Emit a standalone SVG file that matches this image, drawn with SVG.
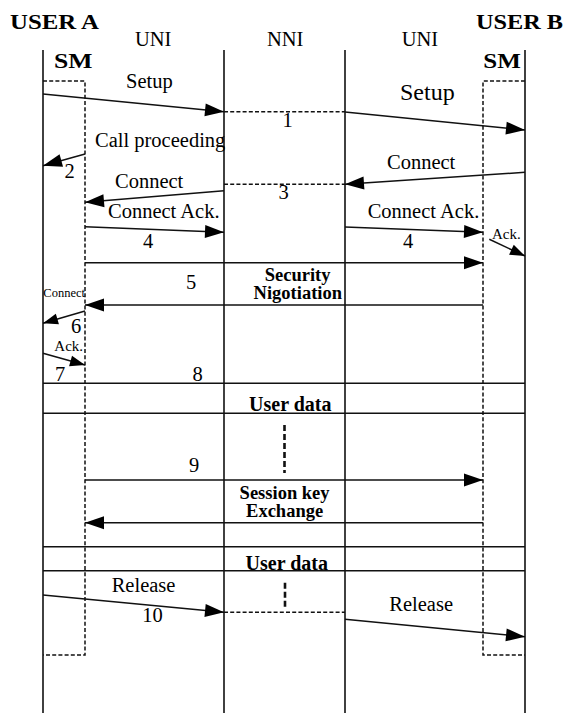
<svg xmlns="http://www.w3.org/2000/svg" width="567" height="713" viewBox="0 0 567 713" font-family="'Liberation Serif','DejaVu Serif','Times New Roman',serif">
<style>
text{font-family:"Liberation Serif","DejaVu Serif","Times New Roman",Times,serif;fill:#000}
.t{font-size:20.5px}
.b{font-weight:bold}
.ln{stroke:#111;stroke-width:1.6;fill:none}
.ds{stroke:#111;stroke-width:1.5;fill:none;stroke-dasharray:4 2.2}
.tk{stroke:#111;stroke-width:2.6;fill:none;stroke-dasharray:6 3}
.ar{stroke:#111;stroke-width:1.5;fill:none;marker-end:url(#ah)}
.as{stroke:#111;stroke-width:1.5;fill:none;marker-end:url(#ahs)}
</style>
<defs>
<marker id="ah" markerUnits="userSpaceOnUse" markerWidth="20" markerHeight="14" refX="19" refY="6.5" orient="auto" overflow="visible"><path d="M0,0 L19,6.5 L0,13 z" fill="#000"/></marker>
<marker id="ahs" markerUnits="userSpaceOnUse" markerWidth="16" markerHeight="12" refX="15" refY="5.5" orient="auto" overflow="visible"><path d="M0,0 L15,5.5 L0,11 z" fill="#000"/></marker>
</defs>
<rect width="567" height="713" fill="#fff"/>

<g id="userA">
<text class="b" x="10" y="29" font-size="22" textLength="89" lengthAdjust="spacingAndGlyphs">USER A</text>
<text class="b" x="54" y="68" font-size="22" textLength="38.5" lengthAdjust="spacingAndGlyphs">SM</text>
<line class="ln" x1="43" y1="50" x2="43" y2="713"/>
<path class="ds" d="M43,81 H85 V655 H43"/>
</g>
<g id="uniA">
<text class="t" x="135" y="45.6">UNI</text>
<line class="ln" x1="224" y1="50" x2="224" y2="713"/>
</g>
<g id="nni">
<text class="t" x="267" y="45.6">NNI</text>
</g>
<g id="uniB">
<text class="t" x="401.7" y="45.6">UNI</text>
<line class="ln" x1="345" y1="50" x2="345" y2="713"/>
</g>
<g id="userB">
<text class="b" x="476" y="29" font-size="22" textLength="87" lengthAdjust="spacingAndGlyphs">USER B</text>
<text class="b" x="483.3" y="68" font-size="22" textLength="37.5" lengthAdjust="spacingAndGlyphs">SM</text>
<line class="ln" x1="525" y1="50" x2="525" y2="713"/>
<path class="ds" d="M525,81 H483 V655 H525"/>
</g>

<g id="connectors">
<line class="ar" x1="43" y1="94" x2="224" y2="111.7"/>
<line class="ds" x1="224" y1="111.7" x2="345" y2="111.7"/>
<line class="ar" x1="345" y1="112" x2="525" y2="130"/>
<line class="ar" x1="85" y1="154" x2="43" y2="165.7"/>
<line class="ds" x1="224" y1="184.3" x2="345" y2="184.3"/>
<line class="ar" x1="525" y1="172.3" x2="345" y2="184.3"/>
<line class="ar" x1="224" y1="190.7" x2="85" y2="202.3"/>
<line class="ar" x1="85" y1="226.7" x2="224" y2="232.3"/>
<line class="ar" x1="345" y1="227" x2="483" y2="232.3"/>
<line class="as" x1="489.3" y1="239.3" x2="525" y2="256"/>
<line class="ar" x1="85" y1="262.7" x2="483" y2="262.7"/>
<line class="ar" x1="483" y1="305" x2="85" y2="305"/>
<line class="as" x1="85" y1="311" x2="43" y2="323.3"/>
<line class="as" x1="43" y1="353.3" x2="85" y2="365"/>
<line class="ln" x1="43" y1="383.3" x2="525" y2="383.3"/>
<line class="ln" x1="43" y1="413.3" x2="525" y2="413.3"/>
<line class="tk" x1="284.5" y1="425" x2="284.5" y2="473"/>
<line class="ar" x1="85" y1="480" x2="483" y2="480"/>
<line class="ar" x1="483" y1="522.7" x2="85" y2="522.7"/>
<line class="ln" x1="43" y1="546.7" x2="525" y2="546.7"/>
<line class="ln" x1="43" y1="570.7" x2="525" y2="570.7"/>
<line class="ar" x1="43" y1="595" x2="224" y2="612.3"/>
<line class="ds" x1="224" y1="612.3" x2="345" y2="612.3"/>
<line class="tk" x1="285" y1="582.7" x2="285" y2="609.3"/>
<line class="ar" x1="345" y1="619.3" x2="525" y2="636.7"/>
</g>

<g id="labels">
<text class="t" x="126" y="88">Setup</text>
<text class="t" x="282.5" y="127">1</text>
<text x="400" y="100" font-size="24">Setup</text>
<text class="t" x="95" y="147">Call proceeding</text>
<text class="t" x="64.5" y="178">2</text>
<text class="t" x="387" y="169">Connect</text>
<text class="t" x="278.5" y="199">3</text>
<text class="t" x="115" y="188">Connect</text>
<text class="t" x="108" y="218">Connect Ack.</text>
<text class="t" x="143" y="248">4</text>
<text class="t" x="367.7" y="217.7">Connect Ack.</text>
<text class="t" x="403" y="248">4</text>
<text x="492" y="239" font-size="15">Ack.</text>
<text class="t" x="186" y="289">5</text>
<text class="b" x="297.6" y="280.5" font-size="18.5" text-anchor="middle">Security</text>
<text class="b" x="297.8" y="298.6" font-size="18.5" text-anchor="middle">Nigotiation</text>
<text x="43.3" y="296.7" font-size="12.5">Connect</text>
<text class="t" x="71" y="333">6</text>
<text x="54.3" y="350.7" font-size="15">Ack.</text>
<text class="t" x="55" y="381">7</text>
<text class="t" x="192.5" y="380.7">8</text>
<text class="b" x="290.3" y="410.7" font-size="20" text-anchor="middle">User data</text>
<text class="t" x="189" y="471.7">9</text>
<text class="b" x="284.6" y="498.5" font-size="18.5" text-anchor="middle">Session key</text>
<text class="b" x="284.6" y="517" font-size="18.5" text-anchor="middle">Exchange</text>
<text class="b" x="286.8" y="570" font-size="20" text-anchor="middle">User data</text>
<text class="t" x="111.7" y="592.3">Release</text>
<text class="t" x="142.3" y="622.3">10</text>
<text class="t" x="389.3" y="610.7">Release</text>
</g>
</svg>
